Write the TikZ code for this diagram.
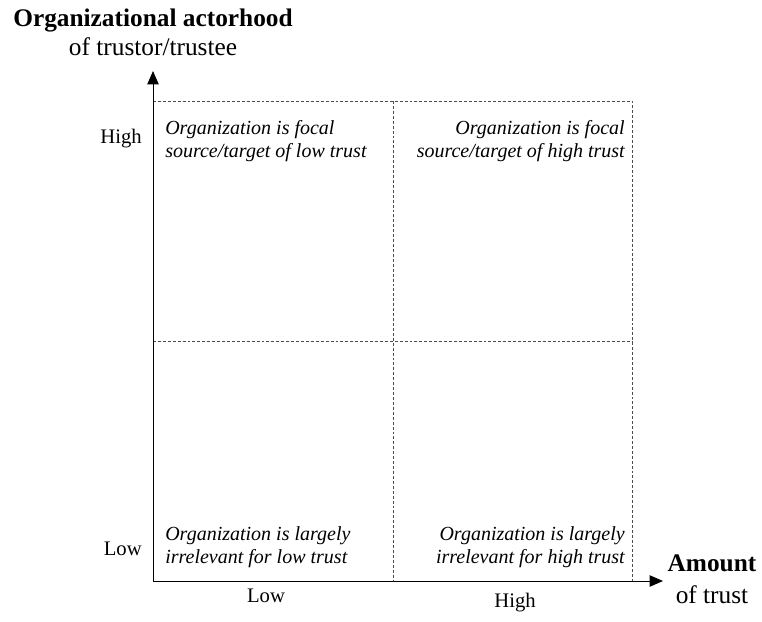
\documentclass[tikz,border=0pt]{standalone}
\usepackage{fontspec}
\setmainfont{Liberation Serif}
\usetikzlibrary{arrows.meta,positioning}

\begin{document}
\begin{tikzpicture}[x=0.75pt,y=-0.75pt,line join=round,>={Triangle[length=10pt,width=8.5pt]},
  axis/.style={line width=0.75pt},
  gridline/.style={line width=0.6pt,black!70,dash pattern=on 2.2pt off 1.5pt},
  cell/.style={font=\fontsize{15}{17.2}\selectfont\itshape,inner sep=0pt},
  level/.style={font=\fontsize{15.5}{18}\selectfont,inner sep=0pt},
  axtitle/.style={font=\fontsize{19}{22}\selectfont,align=center,inner sep=0pt}]
\useasboundingbox (0,0) rectangle (762,621);
% corners of the matrix
\coordinate (O) at (153,581);
\coordinate (ytip) at (153,71);
\coordinate (xtip) at (663,581);
\coordinate (TL) at (153,101);
\coordinate (TR) at (632,101);
\coordinate (BR) at (632,581);
\coordinate (MT) at (393,101);
\coordinate (MB) at (393,581);
\coordinate (ML) at (153,341);
\coordinate (MR) at (632,341);
\draw[gridline] (TL)--(TR)--(BR);
\draw[gridline] (MT)--(MB) (ML)--(MR);
\draw[axis,->] (O)--(ytip);
\draw[axis,->] (O)--(xtip);
% axis titles (anchored at the last line)
\node[axtitle,anchor=base] (ytitle) at (153,55) {\textbf{Organizational actorhood}\\[-1pt]of trustor/trustee};
\node[axtitle,anchor=base] (xtitle) at (712,603) {\textbf{Amount}\\[2pt]of trust};
% levels
\node[level,anchor=base east] (yhigh) at (142,143) {High};
\node[level,anchor=base east] (ylow) at (142,555) {Low};
\node[level,anchor=base] (xlow) at (266,602) {Low};
\node[level,anchor=base] (xhigh) at (515,607) {High};
% cells
\node[cell,anchor=base west,align=left] (celltl) at (165,157) {Organization is focal\\source/target of low trust};
\node[cell,anchor=base east,align=right] (celltr) at (625,157) {Organization is focal\\source/target of high trust};
\node[cell,anchor=base west,align=left] (cellbl) at (165,563) {Organization is largely\\irrelevant for low trust};
\node[cell,anchor=base east,align=right] (cellbr) at (625,563) {Organization is largely\\irrelevant for high trust};
\end{tikzpicture}
\end{document}
